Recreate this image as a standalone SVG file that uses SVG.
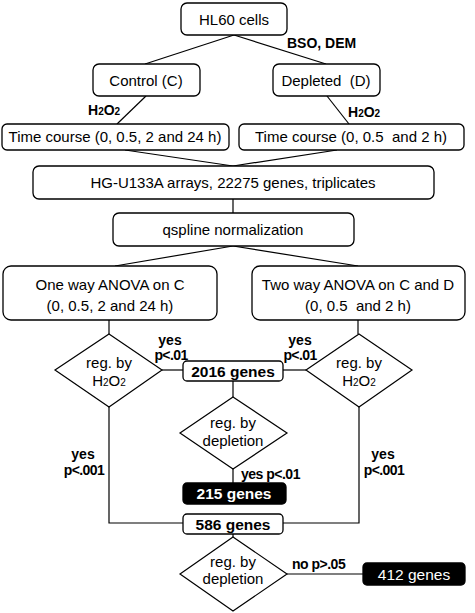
<svg xmlns="http://www.w3.org/2000/svg" width="475" height="613" viewBox="0 0 475 613">
<style>
.box{fill:#fff;stroke:#000;stroke-width:1.3}
.blk{fill:#000;stroke:#000;stroke-width:1.3}
.dia{fill:#fff;stroke:#000;stroke-width:1.2}
.t{font-family:"Liberation Sans",Arial,sans-serif;font-size:15px;text-anchor:middle;fill:#000}
.g{font-family:"Liberation Sans",Arial,sans-serif;font-size:15.5px;font-weight:bold;text-anchor:middle;fill:#000}
.w{font-family:"Liberation Sans",Arial,sans-serif;font-size:15.5px;text-anchor:middle;fill:#fff}
.l{font-family:"Liberation Sans",Arial,sans-serif;font-size:14px;font-weight:bold;fill:#000}
.c line,.c polyline{stroke:#000;stroke-width:1.2;fill:none}
.s{font-size:10px}
.ls{font-size:10px}
</style>
<rect width="475" height="613" fill="#fff"/>
<g class="c" id="connectors">
<line x1="234" y1="35" x2="145" y2="64"/>
<line x1="234" y1="35" x2="326" y2="64"/>
<line x1="146" y1="96" x2="117" y2="124"/>
<line x1="327" y1="96" x2="349" y2="124"/>
<line x1="125" y1="150" x2="233" y2="166"/>
<line x1="337" y1="150" x2="233" y2="166"/>
<line x1="233" y1="199" x2="233" y2="213"/>
<line x1="233" y1="246" x2="115" y2="266"/>
<line x1="233" y1="246" x2="358" y2="266"/>
<line x1="109" y1="320" x2="109" y2="334"/>
<line x1="358" y1="320" x2="358" y2="334"/>
<line x1="162" y1="370" x2="183" y2="370"/>
<line x1="283" y1="370" x2="306" y2="370"/>
<line x1="233" y1="381" x2="233" y2="397"/>
<line x1="233" y1="469" x2="233" y2="483"/>
<polyline points="109,407 109,523 183,523"/>
<polyline points="359,407 359,523 283,523"/>
<line x1="233" y1="534" x2="233" y2="537"/>
<line x1="287" y1="574" x2="363" y2="574"/>
</g>
<g id="n-hl60"><rect class="box" x="181" y="3" width="106" height="32" rx="6"/><text class="t" x="234" y="25">HL60 cells</text></g>
<g id="n-control"><rect class="box" x="93" y="64" width="107" height="32" rx="6"/><text class="t" x="146" y="86">Control (C)</text></g>
<g id="n-depleted"><rect class="box" x="273" y="64" width="107" height="32" rx="6"/><text class="t" x="326" y="86" xml:space="preserve">Depleted  (D)</text></g>
<g id="n-tc-left"><rect class="box" x="2" y="124" width="227" height="26" rx="5"/><text class="t" x="115" y="142">Time course (0, 0.5, 2 and 24 h)</text></g>
<g id="n-tc-right"><rect class="box" x="239" y="124" width="225" height="26" rx="5"/><text class="t" x="351" y="142" xml:space="preserve">Time course (0, 0.5  and 2 h)</text></g>
<g id="n-hg"><rect class="box" x="33" y="166" width="401" height="33" rx="6"/><text class="t" x="233" y="188">HG-U133A arrays, 22275 genes, triplicates</text></g>
<g id="n-qspline"><rect class="box" x="113" y="213" width="241" height="33" rx="6"/><text class="t" x="233" y="235">qspline normalization</text></g>
<g id="n-anova1"><rect class="box" x="3" y="266" width="214" height="54" rx="8"/><text class="t" x="110" y="290">One way ANOVA on C</text><text class="t" x="110" y="311">(0, 0.5, 2 and 24 h)</text></g>
<g id="n-anova2"><rect class="box" x="252" y="266" width="213" height="54" rx="8"/><text class="t" x="358" y="290">Two way ANOVA on C and D</text><text class="t" x="358" y="311" xml:space="preserve">(0, 0.5  and 2 h)</text></g>
<g id="n-dia-left"><polygon class="dia" points="109,334 162,370 109,407 55,370"/><text class="t" x="109" y="368">reg. by</text><text class="t" x="109" y="386">H<tspan class="s">2</tspan>O<tspan class="s">2</tspan></text></g>
<g id="n-dia-right"><polygon class="dia" points="359,334 412,370 359,407 306,370"/><text class="t" x="359" y="368">reg. by</text><text class="t" x="359" y="386">H<tspan class="s">2</tspan>O<tspan class="s">2</tspan></text></g>
<g id="n-2016"><rect class="box" x="183" y="361" width="100" height="20" rx="4"/><text class="g" x="233" y="377">2016 genes</text></g>
<g id="n-dia-mid"><polygon class="dia" points="233,397 287,433 233,469 180,433"/><text class="t" x="233" y="428">reg. by</text><text class="t" x="233" y="446">depletion</text></g>
<g id="n-215"><rect class="blk" x="183" y="483" width="103" height="21" rx="4"/><text class="g" x="234" y="499" style="fill:#fff">215 genes</text></g>
<g id="n-586"><rect class="box" x="183" y="514" width="100" height="20" rx="4"/><text class="g" x="233" y="530">586 genes</text></g>
<g id="n-dia-bottom"><polygon class="dia" points="233,537 287,574 233,611 180,574"/><text class="t" x="233" y="567">reg. by</text><text class="t" x="233" y="584">depletion</text></g>
<g id="n-412"><rect class="blk" x="363" y="563" width="102" height="22" rx="4"/><text class="w" x="414" y="580">412 genes</text></g>
<g id="labels">
<text class="l" x="287" y="48">BSO, DEM</text>
<text class="l" x="88" y="115">H<tspan class="ls">2</tspan>O<tspan class="ls">2</tspan></text>
<text class="l" x="348" y="117">H<tspan class="ls">2</tspan>O<tspan class="ls">2</tspan></text>
<text class="l" x="170" y="345" text-anchor="middle">yes</text>
<text class="l" x="171" y="360" text-anchor="middle" letter-spacing="-0.6">p&lt;.01</text>
<text class="l" x="300" y="345" text-anchor="middle">yes</text>
<text class="l" x="300" y="360" text-anchor="middle" letter-spacing="-0.6">p&lt;.01</text>
<text class="l" x="83" y="459" text-anchor="middle">yes</text>
<text class="l" x="84" y="475" text-anchor="middle" letter-spacing="-0.6">p&lt;.001</text>
<text class="l" x="383" y="459" text-anchor="middle">yes</text>
<text class="l" x="384" y="475" text-anchor="middle" letter-spacing="-0.6">p&lt;.001</text>
<text class="l" x="241" y="479" letter-spacing="-0.5">yes p&lt;.01</text>
<text class="l" x="292" y="569" letter-spacing="-0.5">no p&gt;.05</text>
</g>
</svg>
